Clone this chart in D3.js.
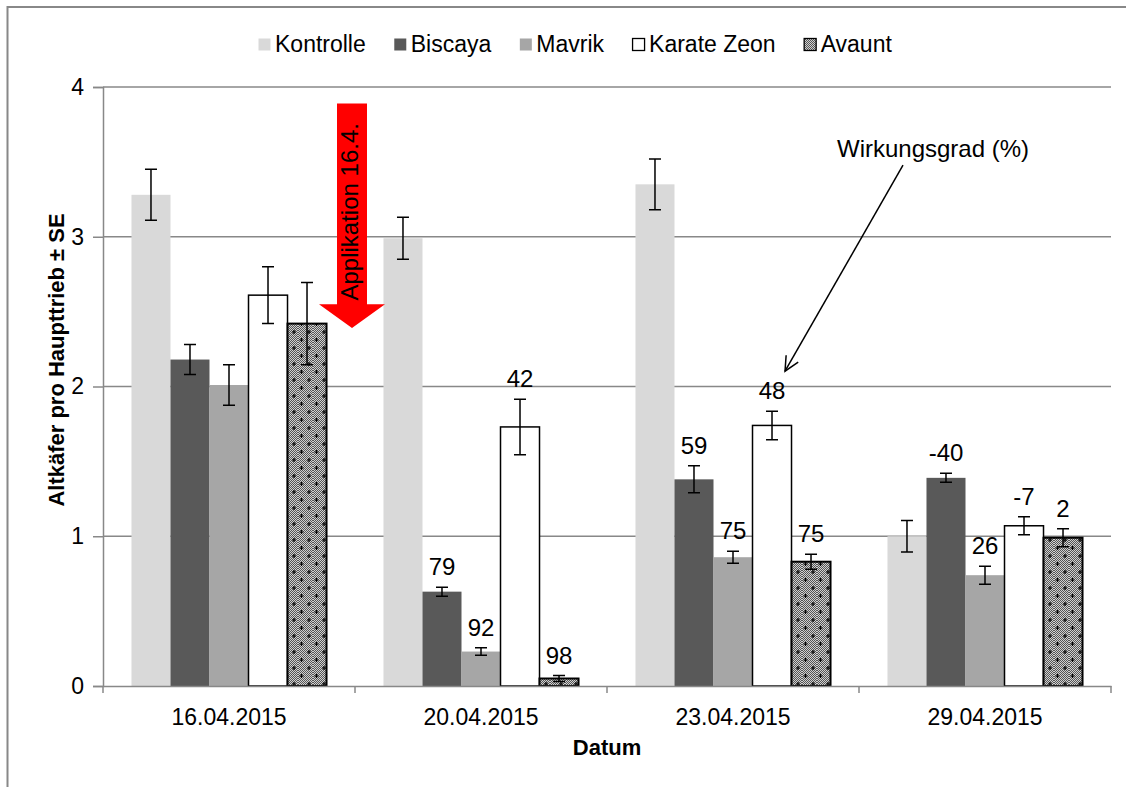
<!DOCTYPE html>
<html>
<head>
<meta charset="utf-8">
<script src="https://cdn.jsdelivr.net/npm/d3@7"></script>
<style>
  body { margin: 0; background: #fff; }
  text { font-family: "Liberation Sans", Arial, sans-serif; }
</style>
</head>
<body>
<svg id="chart" width="1126" height="787"></svg>
<script>
// data
const dates = ["16.04.2015", "20.04.2015", "23.04.2015", "29.04.2015"];
const seriesNames = ["Kontrolle", "Biscaya", "Mavrik", "Karate Zeon", "Avaunt"];

const kontrolle = [3.28, 2.99, 3.35, 1.00];
const kontrolleSE = [0.17, 0.14, 0.17, 0.105];
const biscaya = [2.18, 0.63, 1.38, 1.39];
const biscayaSE = [0.10, 0.03, 0.09, 0.03];
const mavrik = [2.01, 0.23, 0.86, 0.74];
const mavrikSE = [0.135, 0.025, 0.04, 0.06];
const karate = [2.61, 1.73, 1.74, 1.07];
const karateSE = [0.19, 0.185, 0.095, 0.06];
const avaunt = [2.42, 0.05, 0.83, 0.99];
const avauntSE = [0.275, 0.02, 0.05, 0.06];

// Wirkungsgrad (%) labels, null = no label
const kontrolleWG = [null, null, null, null];
const biscayaWG = [null, 79, 59, -40];
const mavrikWG = [null, 92, 75, 26];
const karateWG = [null, 42, 48, -7];
const avauntWG = [null, 98, 75, 2];

const yTicks = [0, 1, 2, 3, 4];

const values = [kontrolle, biscaya, mavrik, karate, avaunt];
const errors = [kontrolleSE, biscayaSE, mavrikSE, karateSE, avauntSE];
const labels = [kontrolleWG, biscayaWG, mavrikWG, karateWG, avauntWG];

const fills = ["#d9d9d9", "#595959", "#a6a6a6", "#ffffff", "url(#avaunt)"];
const strokes = ["none", "none", "none", "#000", "#000"];
const strokeW = [0, 0, 0, 1.5, 2];

const svg = d3.select("#chart");
const margin = { left: 103, right: 1111, top: 87, bottom: 686 };
const FONT = "Liberation Sans, Arial, sans-serif";

// Avaunt fill: fine checker with small crosses
const defs = svg.append("defs");
const chk = defs.append("pattern").attr("id", "checker")
  .attr("width", 2).attr("height", 2).attr("patternUnits", "userSpaceOnUse");
chk.append("rect").attr("width", 2).attr("height", 2).attr("fill", "#d0d0d0");
chk.append("rect").attr("width", 1).attr("height", 1).attr("fill", "#555");
chk.append("rect").attr("x", 1).attr("y", 1).attr("width", 1).attr("height", 1).attr("fill", "#555");
const pat = defs.append("pattern").attr("id", "avaunt")
  .attr("width", 15).attr("height", 16).attr("patternUnits", "userSpaceOnUse");
pat.append("rect").attr("width", 15).attr("height", 16).attr("fill", "url(#checker)");
[[3.5, 4], [11, 12]].forEach(([cx, cy]) => {
  pat.append("path")
    .attr("d", `M${cx - 2},${cy}H${cx + 2}M${cx},${cy - 2}V${cy + 2}`)
    .attr("stroke", "#000").attr("stroke-width", 1.2);
});

// outer frame (only top and left visible)
svg.append("path").attr("d", "M7.5,787V7H1126")
  .attr("fill", "none").attr("stroke", "#888").attr("stroke-width", 2);

const x0 = d3.scaleBand().domain(dates).range([margin.left, margin.right]).padding(0);
const gap = x0.bandwidth() * 0.113;
const x1 = d3.scaleBand().domain(seriesNames).range([gap, x0.bandwidth() - gap]).padding(0);
const y = d3.scaleLinear().domain([0, 4]).range([margin.bottom, margin.top]);

// gridlines
svg.append("g").selectAll("line").data(yTicks.filter(d => d > 0)).join("line")
  .attr("x1", margin.left).attr("x2", margin.right)
  .attr("y1", d => y(d)).attr("y2", d => y(d))
  .attr("stroke", "#888").attr("stroke-width", 1.5);

// y axis
const yAxis = svg.append("g").attr("transform", `translate(${margin.left},0)`)
  .call(d3.axisLeft(y).tickValues(yTicks).tickSize(10).tickPadding(9).tickFormat(d3.format("d")));
yAxis.select(".domain").attr("stroke", "#888").attr("stroke-width", 1.5);
yAxis.selectAll(".tick line").attr("stroke", "#888").attr("stroke-width", 1.5);
yAxis.selectAll(".tick text").attr("font-size", 23).attr("fill", "#000")
  .style("font-family", FONT);

// bars
const groups = svg.append("g").selectAll("g").data(dates).join("g")
  .attr("transform", d => `translate(${x0(d)},0)`);

seriesNames.forEach((s, si) => {
  groups.append("rect")
    .attr("x", x1(s))
    .attr("y", (d, i) => y(values[si][i]))
    .attr("width", x1.bandwidth())
    .attr("height", (d, i) => y(0) - y(values[si][i]))
    .attr("fill", fills[si])
    .attr("stroke", strokes[si])
    .attr("stroke-width", strokeW[si]);
});

// x axis
const xAxis = svg.append("g").attr("transform", `translate(0,${margin.bottom})`)
  .call(d3.axisBottom(x0).tickSize(0).tickPadding(22));
xAxis.select(".domain").attr("stroke", "#888").attr("stroke-width", 1.5);
xAxis.selectAll(".tick text").attr("font-size", 23).attr("fill", "#000")
  .attr("dy", null).attr("y", 39)
  .style("font-family", FONT);
svg.append("g").selectAll("line")
  .data(dates.map(d => x0(d)).concat([margin.right])).join("line")
  .attr("x1", d => d).attr("x2", d => d)
  .attr("y1", margin.bottom).attr("y2", margin.bottom + 7)
  .attr("stroke", "#888").attr("stroke-width", 1.5);

// error bars
seriesNames.forEach((s, si) => {
  const eb = groups.append("g");
  const cx = x1(s) + x1.bandwidth() / 2;
  eb.append("path")
    .attr("d", (d, i) => {
      const v = values[si][i], e = errors[si][i];
      const t = y(v + e), b = y(v - e);
      return `M${cx},${t}V${b}M${cx - 6},${t}H${cx + 6}M${cx - 6},${b}H${cx + 6}`;
    })
    .attr("fill", "none").attr("stroke", "#000").attr("stroke-width", 1.5);
});

// Wirkungsgrad labels
const labelLift = 12;
seriesNames.forEach((s, si) => {
  const cx = x1(s) + x1.bandwidth() / 2;
  groups.append("text")
    .attr("x", cx)
    .attr("y", (d, i) => y(values[si][i] + errors[si][i]) - labelLift)
    .attr("text-anchor", "middle")
    .attr("font-size", 24)
    .text((d, i) => labels[si][i] === null ? "" : labels[si][i]);
});

// axis titles
svg.append("text")
  .attr("transform", `translate(64,360) rotate(-90)`)
  .attr("text-anchor", "middle").attr("font-size", 22).attr("font-weight", "bold")
  .text("Altkäfer pro Haupttrieb ± SE");
svg.append("text")
  .attr("x", (margin.left + margin.right) / 2).attr("y", 755)
  .attr("text-anchor", "middle").attr("font-size", 22).attr("font-weight", "bold")
  .text("Datum");

// legend
const legend = svg.append("g");
let lx = 258;
seriesNames.forEach((s, si) => {
  legend.append("rect")
    .attr("x", lx + 0.5).attr("y", 38.5).attr("width", 12).attr("height", 12)
    .attr("fill", si === 4 ? "url(#checker)" : fills[si])
    .attr("stroke", si >= 3 ? "#000" : "none").attr("stroke-width", 1.3);
  const t = legend.append("text")
    .attr("x", lx + 17).attr("y", 52)
    .attr("font-size", 23)
    .text(s);
  lx += 17 + t.node().getComputedTextLength() + 28;
});

// application arrow (between the first and second date)
const ax = x0(dates[1]) - 3;
const aTop = y(3.89), aHeadStart = y(2.55), aTip = y(2.39);
svg.append("path")
  .attr("d", `M${ax - 15},${aTop}H${ax + 15}V${aHeadStart}H${ax + 33}L${ax},${aTip}L${ax - 33},${aHeadStart}H${ax - 15}Z`)
  .attr("fill", "#ff0000");
svg.append("text")
  .attr("transform", `translate(${ax + 6},${(aTop + aHeadStart) / 2 + 8}) rotate(-90)`)
  .attr("text-anchor", "middle").attr("font-size", 24)
  .text("Applikation 16.4.");

// Wirkungsgrad annotation, pointing at the "48" label
const tipX = x0(dates[2]) + x1("Karate Zeon") + x1.bandwidth() / 2 + 13;
const tipY = y(karate[2] + karateSE[2]) - labelLift - 28;
const startX = tipX + 118, startY = tipY - 206;
svg.append("line")
  .attr("x1", startX).attr("y1", startY).attr("x2", tipX).attr("y2", tipY)
  .attr("stroke", "#000").attr("stroke-width", 1.5);
const ang = Math.atan2(tipY - startY, tipX - startX);
const hl = 16;
svg.append("path")
  .attr("d", `M${tipX - hl * Math.cos(ang - 0.45)},${tipY - hl * Math.sin(ang - 0.45)}L${tipX},${tipY}L${tipX - hl * Math.cos(ang + 0.45)},${tipY - hl * Math.sin(ang + 0.45)}`)
  .attr("fill", "none").attr("stroke", "#000").attr("stroke-width", 1.5);
svg.append("text")
  .attr("x", startX + 30).attr("y", startY - 8)
  .attr("text-anchor", "middle").attr("font-size", 24)
  .text("Wirkungsgrad (%)");
</script>
</body>
</html>
